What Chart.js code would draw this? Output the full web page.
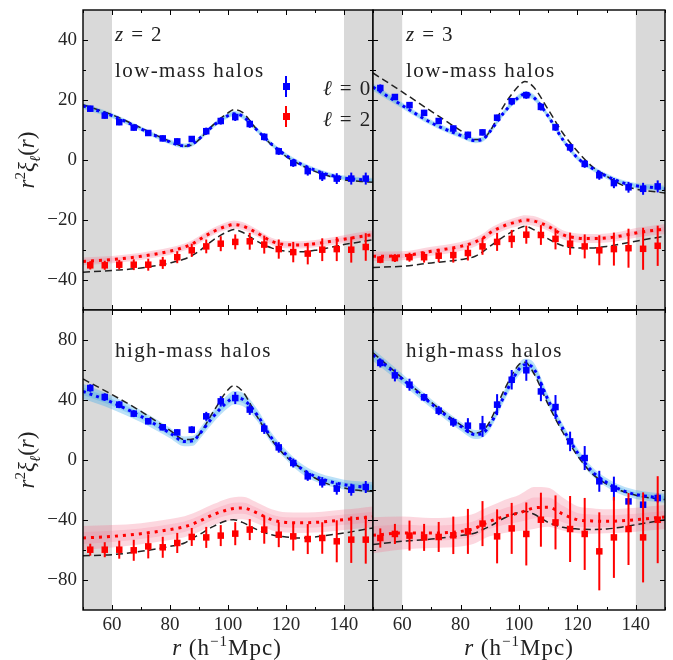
<!DOCTYPE html>
<html>
<head>
<meta charset="utf-8">
<script src="https://cdn.jsdelivr.net/npm/chart.js@4.4.0/dist/chart.umd.min.js"></script>
<style>
  html, body { margin: 0; padding: 0; background: #fff; }
  #wrap { position: relative; width: 673px; height: 660px; overflow: hidden;
          font-family: 'Liberation Serif', 'DejaVu Serif', serif; color: #222; }
  canvas { position: absolute; left: 0; top: 0; }
  .txt { position: absolute; white-space: nowrap; line-height: 1; }
  .tag { font-size: 21px; letter-spacing: 1.4px; }
  .ylab { font-size: 23px; transform: translate(-50%, -50%) rotate(-90deg); }
  .xlab { font-size: 23px; letter-spacing: 1px; transform: translateX(-50%); }
  .lg { position: absolute; }
</style>
</head>
<body>
<div id="wrap">
  <canvas id="pTL" width="673" height="660"></canvas>
  <canvas id="pTR" width="673" height="660"></canvas>
  <canvas id="pBL" width="673" height="660"></canvas>
  <canvas id="pBR" width="673" height="660"></canvas>

  <div class="txt tag" style="left:115px;top:24px"><i>z</i> = 2</div>
  <div class="txt tag" style="left:115px;top:60px">low-mass halos</div>
  <div class="txt tag" style="left:406px;top:24px"><i>z</i> = 3</div>
  <div class="txt tag" style="left:406px;top:60px">low-mass halos</div>
  <div class="txt tag" style="left:115px;top:340px">high-mass halos</div>
  <div class="txt tag" style="left:406px;top:340px">high-mass halos</div>

  <!-- legend -->
  <div class="lg" style="left:285px;top:76px;width:2px;height:21px;background:#0000ff"></div>
  <div class="lg" style="left:283px;top:83px;width:7px;height:7px;background:#0000ff"></div>
  <div class="lg" style="left:285px;top:106px;width:2px;height:21px;background:#ff0000"></div>
  <div class="lg" style="left:283px;top:113px;width:7px;height:7px;background:#ff0000"></div>
  <div class="txt tag" style="left:323px;top:78px"><i>ℓ</i> = 0</div>
  <div class="txt tag" style="left:323px;top:109px"><i>ℓ</i> = 2</div>

  <div class="txt ylab" style="left:28px;top:160px"><i>r</i><sup style="font-size:15px">2</sup><i>ξ</i><sub style="font-size:15px"><i>ℓ</i></sub>(<i>r</i>)</div>
  <div class="txt ylab" style="left:28px;top:460px"><i>r</i><sup style="font-size:15px">2</sup><i>ξ</i><sub style="font-size:15px"><i>ℓ</i></sub>(<i>r</i>)</div>
  <div class="txt xlab" style="left:227px;top:634px"><i>r</i> (h<sup style="font-size:15px">−1</sup>Mpc)</div>
  <div class="txt xlab" style="left:519px;top:634px"><i>r</i> (h<sup style="font-size:15px">−1</sup>Mpc)</div>
</div>

<script>
// separation bins of the measurements and the grid the model curves were read on
const rPoints = [52.5, 57.5, 62.5, 67.5, 72.5, 77.5, 82.5, 87.5, 92.5, 97.5,
                 102.5, 107.5, 112.5, 117.5, 122.5, 127.5, 132.5, 137.5, 142.5, 147.5];
const rModel = [50, 60, 70, 80, 85, 88, 90, 95, 100, 102, 105, 110, 115, 120, 125, 130, 135, 140, 145, 150];

const xTickValues = [60, 80, 100, 120, 140];
const xMinorTicks = [50, 70, 90, 110, 130, 150];
const yTicksTop = [-40, -20, 0, 20, 40];
const yMinorTop = [-30, -10, 10, 30];
const yTicksBottom = [-80, -40, 0, 40, 80];
const yMinorBottom = [-60, -20, 20, 60];
const maskedRanges = [[50, 60], [140, 150]];

// z = 2, low-mass halos
const lowZ2_mono = [17.1, 14.8, 12.6, 10.8, 9.0, 7.2, 6.2, 7.0, 9.6, 13.0, 14.3, 12.0, 7.7, 2.9, -1.0, -3.7, -5.4, -6.2, -6.2, -6.2];
const lowZ2_monoErr = [1.0, 1.0, 1.0, 1.0, 1.0, 1.0, 1.0, 1.0, 1.2, 1.2, 1.3, 1.3, 1.2, 1.2, 1.3, 1.5, 1.6, 1.8, 2.0, 2.0];
const lowZ2_quad = [-35.1, -35.1, -34.9, -34.9, -34.9, -34.3, -32.4, -30.1, -28.8, -27.9, -27.3, -27.1, -28.2, -29.7, -30.7, -31.2, -29.9, -29.7, -29.9, -29.0];
const lowZ2_quadErr = [1.4, 1.5, 1.6, 1.8, 2.0, 2.0, 2.0, 2.2, 2.3, 2.5, 2.5, 2.8, 3.0, 3.2, 3.4, 3.6, 3.8, 4.0, 4.3, 4.6];
const lowZ2_fit0 = [18.0, 14.8, 10.4, 6.0, 4.7, 5.5, 7.0, 11.5, 14.8, 15.4, 14.6, 10.0, 5.3, 1.5, -1.3, -3.4, -5.0, -6.0, -6.5, -6.8];
const lowZ2_fit2 = [-33.8, -33.2, -32.1, -30.4, -29.0, -27.8, -26.6, -23.8, -21.9, -21.5, -22.0, -24.3, -27.1, -28.2, -28.3, -27.9, -27.2, -26.4, -25.6, -24.9];
const lowZ2_lin0 = [18.4, 15.1, 10.7, 6.2, 4.6, 5.2, 6.8, 11.8, 15.7, 16.8, 15.9, 10.1, 5.1, 1.2, -1.6, -3.8, -5.4, -6.6, -7.1, -7.4];
const lowZ2_lin2 = [-37.4, -36.8, -36.0, -34.3, -33.0, -31.6, -30.4, -26.6, -23.8, -23.2, -24.1, -27.1, -29.3, -30.4, -30.6, -30.1, -29.2, -28.2, -27.4, -26.6];
const lowZ2_band0 = [1.0, 0.9, 0.8, 0.8, 0.8, 0.8, 0.8, 0.8, 0.9, 0.9, 0.9, 0.8, 0.8, 0.8, 0.8, 0.8, 0.8, 0.8, 0.8, 0.8];
const lowZ2_band2 = [1.3, 1.2, 1.2, 1.2, 1.2, 1.2, 1.2, 1.2, 1.3, 1.3, 1.3, 1.2, 1.2, 1.2, 1.2, 1.2, 1.3, 1.3, 1.4, 1.5];

// z = 3, low-mass halos
const lowZ3_mono = [24.0, 21.0, 18.3, 15.7, 13.0, 10.5, 8.4, 9.2, 14.1, 19.6, 21.6, 17.7, 10.9, 4.2, -1.3, -5.1, -7.7, -9.1, -9.6, -8.8];
const lowZ3_monoErr = [1.2, 1.0, 1.0, 1.0, 1.0, 1.0, 1.0, 1.0, 1.0, 1.0, 1.2, 1.2, 1.2, 1.2, 1.3, 1.5, 1.7, 1.8, 2.0, 2.0];
const lowZ3_quad = [-33.2, -32.7, -32.4, -32.4, -31.9, -31.7, -31.0, -28.8, -27.3, -26.3, -24.9, -25.0, -26.3, -27.9, -28.8, -30.1, -29.7, -29.4, -29.6, -28.6];
const lowZ3_quadErr = [1.2, 1.3, 1.5, 1.8, 2.2, 2.5, 2.5, 2.8, 3.0, 3.0, 3.0, 3.3, 3.5, 3.7, 4.0, 5.0, 5.5, 6.5, 7.0, 6.7];
const lowZ3_fit0 = [24.3, 18.2, 12.4, 8.2, 6.5, 7.2, 9.4, 16.0, 21.0, 22.0, 20.9, 14.6, 6.8, 0.7, -2.7, -5.4, -7.4, -8.6, -9.1, -9.6];
const lowZ3_fit2 = [-32.1, -31.9, -30.4, -28.8, -27.3, -25.8, -24.3, -21.9, -20.4, -20.0, -20.3, -22.1, -24.9, -26.0, -26.2, -26.0, -25.3, -24.3, -23.6, -23.0];
const lowZ3_lin0 = [29.0, 22.7, 16.2, 9.8, 6.8, 7.3, 9.5, 18.4, 24.8, 26.2, 24.3, 16.8, 9.0, 2.9, -2.1, -5.4, -8.2, -9.7, -10.4, -11.0];
const lowZ3_lin2 = [-35.8, -35.4, -34.3, -33.2, -32.1, -30.3, -28.8, -25.4, -22.7, -22.1, -23.2, -26.3, -28.6, -29.3, -29.3, -28.8, -28.0, -27.1, -26.2, -25.4];
const lowZ3_band0 = [1.2, 1.0, 0.9, 0.9, 0.9, 0.9, 0.9, 0.9, 1.0, 1.0, 1.0, 0.9, 0.9, 0.9, 0.9, 0.9, 0.9, 0.9, 1.0, 1.0];
const lowZ3_band2 = [1.6, 1.5, 1.5, 1.5, 1.5, 1.5, 1.5, 1.5, 1.6, 1.6, 1.6, 1.5, 1.5, 1.5, 1.5, 1.5, 1.5, 1.6, 1.6, 1.7];

// z = 2, high-mass halos
const highZ2_mono = [48.0, 42.0, 36.9, 30.9, 25.8, 21.8, 18.4, 20.2, 29.1, 39.1, 41.3, 33.6, 20.9, 8.4, -2.0, -10.9, -14.9, -19.1, -19.8, -18.0];
const highZ2_monoErr = [2.5, 2.5, 2.3, 2.3, 2.0, 2.0, 2.0, 2.3, 3.0, 3.5, 4.0, 3.5, 3.5, 3.5, 3.0, 3.0, 3.5, 4.0, 4.0, 4.0];
const highZ2_quad = [-59.8, -59.8, -59.8, -60.2, -57.6, -58.2, -55.3, -51.3, -51.6, -50.4, -49.1, -46.4, -46.4, -49.8, -50.9, -52.7, -52.0, -54.2, -53.1, -53.1];
const highZ2_quadErr = [4.0, 5.0, 6.0, 7.0, 8.0, 7.0, 6.7, 6.0, 7.0, 7.0, 7.7, 7.0, 9.4, 8.3, 9.5, 10.0, 10.5, 14.0, 15.5, 16.0];
const highZ2_fit0 = [45.8, 38.4, 29.1, 18.0, 12.4, 12.8, 16.9, 29.1, 39.1, 41.5, 40.5, 30.2, 14.7, 3.6, -5.3, -10.9, -14.2, -16.4, -17.6, -18.2];
const highZ2_fit2 = [-52.0, -50.9, -49.1, -46.4, -44.5, -42.5, -40.9, -36.4, -33.1, -32.3, -32.0, -35.3, -39.8, -41.6, -41.8, -41.6, -40.8, -39.8, -38.9, -38.0];
const highZ2_lin0 = [54.0, 43.6, 32.4, 19.8, 13.6, 14.0, 16.9, 32.4, 46.9, 49.6, 45.8, 29.1, 13.6, 2.4, -5.3, -12.0, -16.4, -18.7, -20.2, -20.9];
const highZ2_lin2 = [-63.8, -63.1, -60.9, -57.6, -55.3, -51.8, -49.8, -44.2, -40.2, -39.8, -41.6, -46.4, -49.8, -51.3, -52.0, -51.3, -50.0, -48.7, -47.0, -45.3];
const highZ2_band0 = [5.0, 4.5, 4.0, 3.5, 3.3, 3.3, 3.5, 4.0, 4.5, 4.5, 4.5, 4.0, 3.5, 3.3, 3.3, 3.3, 3.3, 3.3, 3.5, 3.5];
const highZ2_band2 = [8.0, 7.5, 7.0, 7.0, 7.0, 7.0, 7.0, 7.0, 7.5, 7.5, 7.5, 7.0, 7.0, 6.8, 6.8, 6.8, 6.8, 6.8, 6.8, 7.0];

// z = 3, high-mass halos
const highZ3_mono = [64.7, 56.4, 50.2, 41.8, 32.9, 25.1, 22.9, 22.4, 36.9, 53.5, 59.8, 45.7, 35.3, 12.4, 1.3, -14.2, -19.1, -27.6, -29.8, -25.3];
const highZ3_monoErr = [3.0, 4.0, 4.0, 2.5, 3.0, 3.0, 5.0, 7.0, 7.0, 6.5, 7.0, 6.5, 8.0, 6.5, 8.0, 7.0, 8.0, 1.5, 1.5, 3.0];
const highZ3_quad = [-52.0, -49.3, -50.4, -51.6, -51.3, -50.2, -47.6, -42.4, -50.9, -45.6, -49.3, -39.8, -41.6, -46.0, -49.3, -60.9, -51.6, -46.0, -51.6, -39.8];
const highZ3_quadErr = [6.4, 6.7, 10, 9, 10, 12.5, 15, 15, 18, 17, 21, 18, 18, 22, 24, 26, 27, 24, 30, 29];
const highZ3_fit0 = [70.0, 54.0, 37.5, 22.5, 17.0, 18.5, 23.0, 43.0, 60.5, 63.5, 61.0, 40.0, 21.0, 5.0, -7.5, -15.0, -20.0, -23.0, -24.5, -25.5];
const highZ3_fit2 = [-50.2, -48.7, -48.7, -47.6, -45.5, -42.5, -40.9, -37.6, -35.3, -34.0, -32.0, -31.5, -36.0, -39.8, -40.6, -40.9, -40.5, -39.8, -38.9, -38.0];
const highZ3_lin0 = [71.5, 54.7, 38.4, 23.5, 18.0, 20.2, 25.7, 46.9, 63.6, 65.1, 58.0, 37.0, 18.5, 3.0, -9.0, -16.0, -20.5, -23.5, -25.3, -26.4];
const highZ3_lin2 = [-56.4, -54.2, -52.7, -50.4, -48.7, -46.0, -44.2, -38.7, -34.9, -34.2, -36.0, -41.6, -44.9, -46.0, -46.3, -46.0, -44.8, -43.1, -41.5, -39.8];
const highZ3_band0 = [4, 3.5, 3, 3, 3, 3, 3, 3.5, 4, 4, 4, 3.5, 3, 3, 3, 3, 3, 3, 3, 3];
const highZ3_band2 = [12, 11, 10, 10, 10, 10, 10, 11, 12, 13, 14, 13, 11, 9, 8.5, 8, 8, 8, 8, 8];

const W = 673, H = 660, AXW = 50, AXH = 40;
const FONT = "'Liberation Serif', 'DejaVu Serif', serif";

const panels = [
  { id: 'pTL', left: 83, right: 373, top: 10, bottom: 310, yMin: -50, yMax: 50, yTicks: yTicksTop, yMinor: yMinorTop, showX: false, showY: true,
    mono: lowZ2_mono, monoErr: lowZ2_monoErr, quad: lowZ2_quad, quadErr: lowZ2_quadErr,
    fit0: lowZ2_fit0, fit2: lowZ2_fit2, lin0: lowZ2_lin0, lin2: lowZ2_lin2, band0: lowZ2_band0, band2: lowZ2_band2 },
  { id: 'pTR', left: 373, right: 665, top: 10, bottom: 310, yMin: -50, yMax: 50, yTicks: yTicksTop, yMinor: yMinorTop, showX: false, showY: false,
    mono: lowZ3_mono, monoErr: lowZ3_monoErr, quad: lowZ3_quad, quadErr: lowZ3_quadErr,
    fit0: lowZ3_fit0, fit2: lowZ3_fit2, lin0: lowZ3_lin0, lin2: lowZ3_lin2, band0: lowZ3_band0, band2: lowZ3_band2 },
  { id: 'pBL', left: 83, right: 373, top: 310, bottom: 610, yMin: -100, yMax: 100, yTicks: yTicksBottom, yMinor: yMinorBottom, showX: true, showY: true,
    mono: highZ2_mono, monoErr: highZ2_monoErr, quad: highZ2_quad, quadErr: highZ2_quadErr,
    fit0: highZ2_fit0, fit2: highZ2_fit2, lin0: highZ2_lin0, lin2: highZ2_lin2, band0: highZ2_band0, band2: highZ2_band2 },
  { id: 'pBR', left: 373, right: 665, top: 310, bottom: 610, yMin: -100, yMax: 100, yTicks: yTicksBottom, yMinor: yMinorBottom, showX: true, showY: false,
    mono: highZ3_mono, monoErr: highZ3_monoErr, quad: highZ3_quad, quadErr: highZ3_quadErr,
    fit0: highZ3_fit0, fit2: highZ3_fit2, lin0: highZ3_lin0, lin2: highZ3_lin2, band0: highZ3_band0, band2: highZ3_band2 }
];

function xy(xs, ys) {
  return xs.map((x, i) => ({ x: x, y: ys[i] }));
}
function offset(ys, hw, k) {
  return ys.map((y, i) => y + k * hw[i]);
}
function minus(v) {
  return String(v).replace('-', '\u2212');
}
// keep the plot box exactly where the panel grid wants it
function fixScale(s, size) {
  if (s.isHorizontal()) s.height = size; else s.width = size;
  s.paddingTop = 0; s.paddingBottom = 0; s.paddingLeft = 0; s.paddingRight = 0;
}

// grey masked regions, error bars, frame and inward ticks
const panelDecor = {
  id: 'panelDecor',
  beforeDatasetsDraw(chart) {
    const { ctx, chartArea: a, scales: { x } } = chart;
    ctx.save();
    ctx.fillStyle = '#d9d9d9';
    maskedRanges.forEach(([lo, hi]) => {
      const x0 = x.getPixelForValue(lo), x1 = x.getPixelForValue(hi);
      ctx.fillRect(x0, a.top, x1 - x0, a.bottom - a.top);
    });
    ctx.restore();
  },
  afterDatasetsDraw(chart) {
    const { ctx, chartArea: a, scales: { x, y } } = chart;
    ctx.save();
    ctx.beginPath();
    ctx.rect(a.left, a.top, a.right - a.left, a.bottom - a.top);
    ctx.clip();
    chart.data.datasets.forEach(ds => {
      if (!ds.errs) return;
      ctx.strokeStyle = ds.backgroundColor;
      ctx.lineWidth = 2;
      ds.data.forEach((p, i) => {
        const px = x.getPixelForValue(p.x);
        ctx.beginPath();
        ctx.moveTo(px, y.getPixelForValue(p.y - ds.errs[i]));
        ctx.lineTo(px, y.getPixelForValue(p.y + ds.errs[i]));
        ctx.stroke();
      });
    });
    ctx.restore();
  },
  afterDraw(chart) {
    const { ctx, chartArea: a, scales: { x, y } } = chart;
    const p = chart.options.plugins.panelDecor;
    ctx.save();
    ctx.strokeStyle = '#000';
    ctx.lineWidth = 1;
    const tx = (v, len) => {
      const px = Math.round(x.getPixelForValue(v)) + 0.5;
      ctx.moveTo(px, a.bottom); ctx.lineTo(px, a.bottom - len);
      ctx.moveTo(px, a.top); ctx.lineTo(px, a.top + len);
    };
    const ty = (v, len) => {
      const py = Math.round(y.getPixelForValue(v)) + 0.5;
      ctx.moveTo(a.left, py); ctx.lineTo(a.left + len, py);
      ctx.moveTo(a.right, py); ctx.lineTo(a.right - len, py);
    };
    ctx.beginPath();
    xTickValues.forEach(v => tx(v, 5));
    xMinorTicks.forEach(v => tx(v, 3));
    p.yTicks.forEach(v => ty(v, 5));
    p.yMinor.forEach(v => ty(v, 3));
    ctx.stroke();
    ctx.lineWidth = 1.4;
    ctx.strokeRect(a.left, a.top, a.right - a.left, a.bottom - a.top);
    ctx.restore();
  }
};

function makePanel(p) {
  const band = (ys, hw, k, color, order, fill) => ({
    data: xy(rModel, offset(ys, hw, k)),
    showLine: true, pointRadius: 0, borderWidth: 0, borderColor: 'rgba(0,0,0,0)',
    backgroundColor: color, fill: fill, order: order, cubicInterpolationMode: 'monotone'
  });
  const curve = (ys, color, width, dash, order) => ({
    data: xy(rModel, ys),
    showLine: true, pointRadius: 0, borderColor: color, borderWidth: width,
    borderDash: dash, fill: false, order: order, cubicInterpolationMode: 'monotone'
  });
  const points = (ys, errs, color) => ({
    data: xy(rPoints, ys), errs: errs,
    showLine: false, pointStyle: 'rect', pointRadius: 4.6, borderWidth: 0,
    backgroundColor: color, borderColor: color, order: 0
  });

  const blueOuter = 'rgba(60,170,235,0.35)', blueInner = 'rgba(60,170,235,0.3)';
  const pinkOuter = 'rgba(245,110,140,0.28)', pinkInner = 'rgba(245,110,140,0.2)';

  const datasets = [
    points(p.mono, p.monoErr, '#0000ff'),
    points(p.quad, p.quadErr, '#ff0000'),
    curve(p.fit0, '#0000ff', 3, [3, 4], 1),
    curve(p.fit2, '#ff0000', 3, [3, 5], 1),
    curve(p.lin0, '#222', 1.5, [7, 4], 2),
    curve(p.lin2, '#222', 1.5, [7, 4], 2),
    band(p.fit0, p.band0, 1, blueOuter, 5, false),
    band(p.fit0, p.band0, -1, blueOuter, 5, '-1'),
    band(p.fit0, p.band0, 0.5, blueInner, 4, false),
    band(p.fit0, p.band0, -0.5, blueInner, 4, '-1'),
    band(p.fit2, p.band2, 1, pinkOuter, 5, false),
    band(p.fit2, p.band2, -1, pinkOuter, 5, '-1'),
    band(p.fit2, p.band2, 0.5, pinkInner, 4, false),
    band(p.fit2, p.band2, -0.5, pinkInner, 4, '-1')
  ];

  const tickFont = { family: FONT, size: 19 };

  return new Chart(document.getElementById(p.id), {
    type: 'scatter',
    data: { datasets: datasets },
    options: {
      responsive: false,
      animation: false,
      events: [],
      layout: { padding: { left: p.left - AXW, right: W - p.right, top: p.top, bottom: H - p.bottom - AXH } },
      plugins: {
        legend: { display: false },
        tooltip: { enabled: false },
        panelDecor: { yTicks: p.yTicks, yMinor: p.yMinor }
      },
      scales: {
        x: {
          type: 'linear', min: 50, max: 150,
          grid: { display: false, drawTicks: false },
          border: { display: false },
          ticks: { display: p.showX, font: tickFont, color: '#262626', padding: 4, maxRotation: 0, callback: minus },
          afterBuildTicks: s => { s.ticks = xTickValues.map(v => ({ value: v })); },
          afterFit: s => fixScale(s, AXH)
        },
        y: {
          type: 'linear', min: p.yMin, max: p.yMax,
          grid: { display: false, drawTicks: false },
          border: { display: false },
          ticks: { display: p.showY, font: tickFont, color: '#262626', padding: 6, callback: minus },
          afterBuildTicks: s => { s.ticks = p.yTicks.map(v => ({ value: v })); },
          afterFit: s => fixScale(s, AXW)
        }
      }
    },
    plugins: [panelDecor]
  });
}

panels.forEach(makePanel);
</script>
</body>
</html>
